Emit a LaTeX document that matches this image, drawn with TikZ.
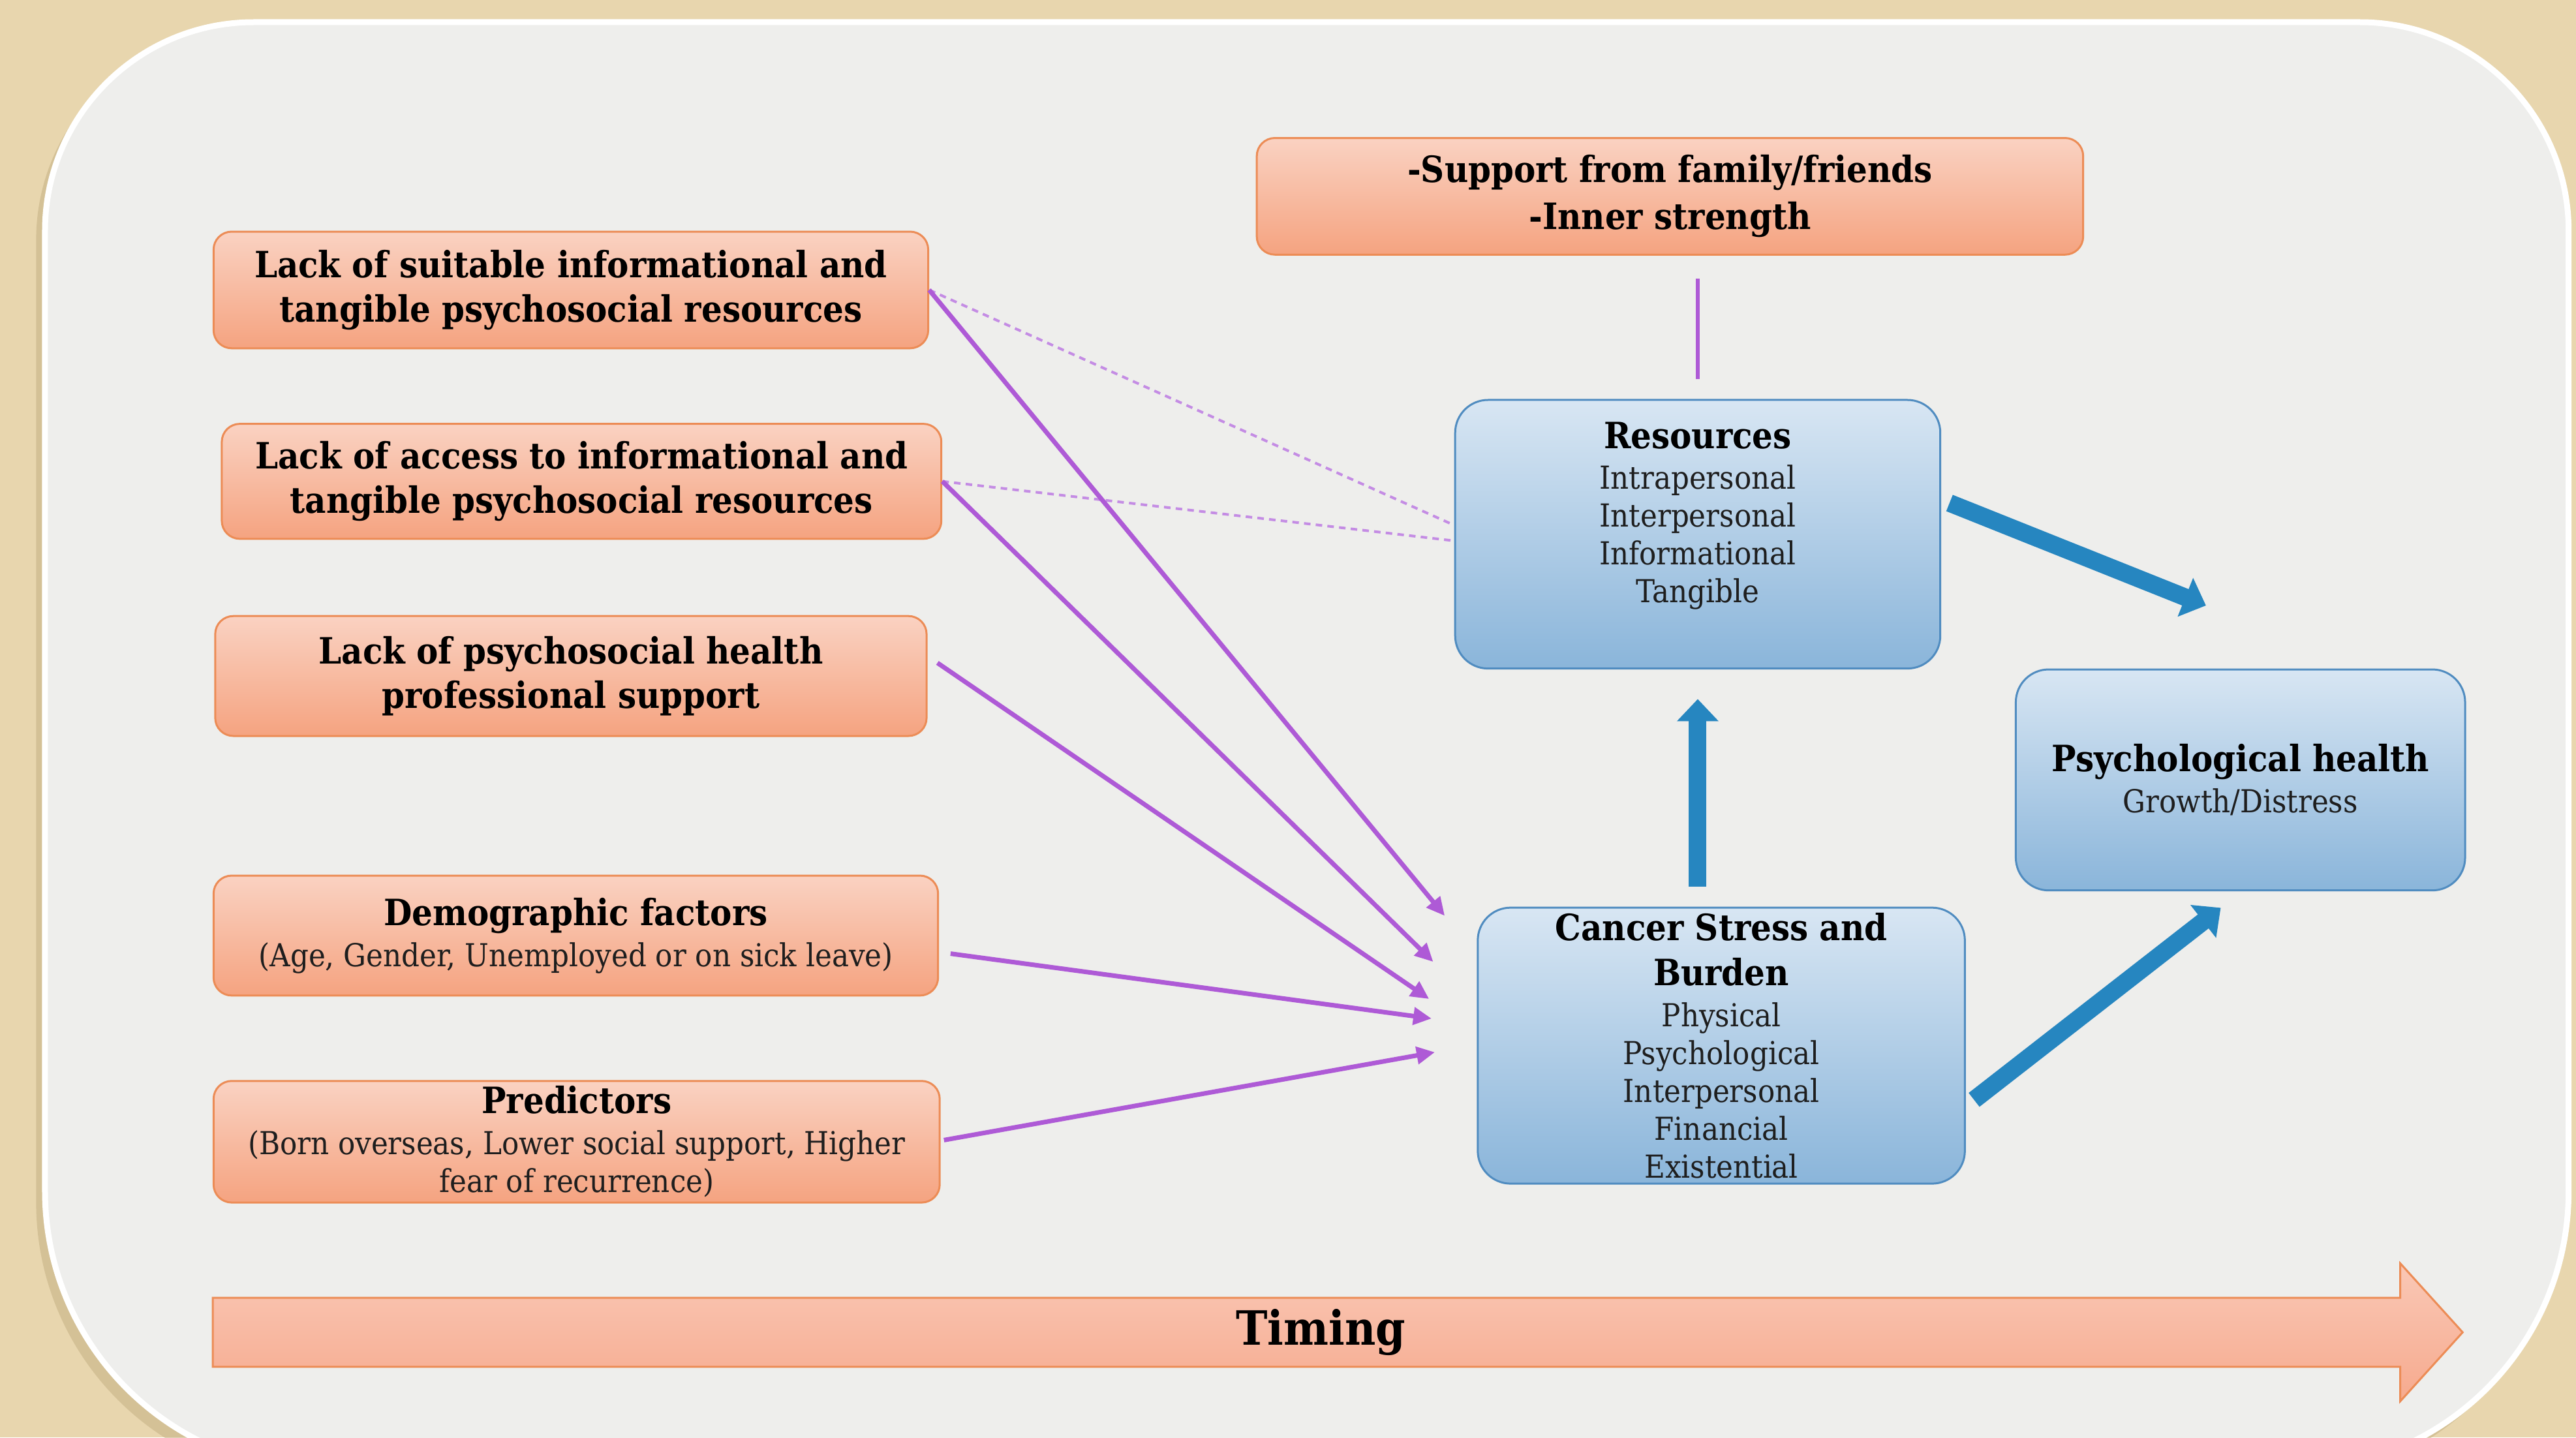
\documentclass[tikz,border=0pt]{standalone}
\usepackage{fontspec}
\setmainfont{DejaVu Serif Condensed}
\usetikzlibrary{arrows.meta,calc}
\newlength\px \setlength\px{0.02518cm}
\definecolor{tanbg}{RGB}{232,214,174}
\definecolor{tanshadow}{RGB}{196,176,132}
\definecolor{panel}{RGB}{238,238,236}
\definecolor{otop}{RGB}{250,210,194}
\definecolor{obot}{RGB}{245,163,128}
\definecolor{odraw}{RGB}{236,140,86}
\definecolor{btop}{RGB}{216,230,243}
\definecolor{bbot}{RGB}{138,181,218}
\definecolor{bdraw}{RGB}{80,140,192}
\definecolor{bluea}{RGB}{38,134,192}
\definecolor{purp}{RGB}{174,90,214}
\definecolor{purplite}{RGB}{196,140,228}
\definecolor{tarrtop}{RGB}{250,200,182}
\definecolor{tarrbot}{RGB}{246,170,142}
\definecolor{regtext}{RGB}{30,30,30}
\newcommand{\bttl}{\fontsize{15.8}{16.5}\selectfont\bfseries}
\begin{document}
\begin{tikzpicture}[x=0.02518cm, y=-0.02518cm,
  obox/.style={rounded corners=11\px, top color=otop, bottom color=obot, draw=odraw, line width=0.03cm, inner sep=0pt, align=center, text=black},
  bbox/.style={rounded corners=20\px, top color=btop, bottom color=bbot, draw=bdraw, line width=0.03cm, inner sep=0pt, align=center, text=black},
  bt/.style={font=\fontsize{15.8}{19.5}\selectfont\bfseries},
  rt/.style={font=\fontsize{13.8}{16.5}\selectfont},
  parr/.style={draw=purp, line width=0.07cm, -{Triangle[length=0.28cm,width=0.26cm]}},
  pline/.style={draw=purp, line width=0.06cm},
  pdash/.style={draw=purplite, line width=0.04cm, dash pattern=on 0.1cm off 0.08cm},
  barr/.style={draw=bluea, line width=0.27cm, -{Triangle[length=0.34cm,width=0.62cm]}},
]
\useasboundingbox (0,0) rectangle (1568,875);
\fill[tanbg] (0,0) rectangle (1568,875);
% panel
\fill[tanshadow, opacity=0.55] (22,500) [rounded corners=127\px] -- (22,19) -- (1558,19) -- (1558,500)
  [rounded corners=170\px] -- (1558,902) -- (22,902) -- cycle;
\filldraw[fill=panel, draw=white, line width=0.09cm] (27.4,500) [rounded corners=127\px] -- (27.4,13.5)
  -- (1563.5,13.5) -- (1563.5,500) [rounded corners=170\px] -- (1563.5,895) -- (27.4,895) -- cycle;

% timing arrow
\filldraw[top color=tarrtop, bottom color=tarrbot, draw=odraw, line width=0.03cm]
  (129.5,790) -- (1461,790) -- (1461,769) -- (1499,811) -- (1461,853) -- (1461,832) -- (129.5,832) -- cycle;
\node[font=\fontsize{20.6}{24}\selectfont\bfseries] (timing) at (804,811) {Timing};

% left boxes
\node[obox, bt, minimum width=435\px, minimum height=71\px] (b1) at (347.5,176.5)
  {Lack of suitable informational and\\tangible psychosocial resources};
\node[obox, bt, minimum width=438\px, minimum height=70\px] (b2) at (354,293)
  {Lack of access to informational and\\tangible psychosocial resources};
\node[obox, bt, minimum width=433\px, minimum height=73\px] (b3) at (347.5,411.5)
  {Lack of psychosocial health\\professional support};
\node[obox, rt, minimum width=441\px, minimum height=73\px] (b4) at (350.5,569.5)
  {{\bttl Demographic factors}\\[1.4pt]
   \textcolor{regtext}{(Age, Gender, Unemployed or on sick leave)}};
\node[obox, rt, minimum width=442\px, minimum height=74\px] (b5) at (351,695)
  {{\bttl Predictors}\\[1.4pt]
   \textcolor{regtext}{(Born overseas, Lower social support, Higher}\\
   \textcolor{regtext}{fear of recurrence)}};

% top box
\node[obox, bt, minimum width=503\px, minimum height=71\px] (sup) at (1016.5,119.5)
  {-Support from family/friends\\[1pt]-Inner strength};

% blue boxes
\node[bbox, minimum width=295.3\px, minimum height=163.5\px] (res) at (1033.4,325.2) {};
\node[rt, align=center, anchor=north, inner sep=0pt, text=regtext] (restext) at (1033.4,256.5)
  {{\bttl\color{black}Resources}\\[1.4pt]
   Intrapersonal\\Interpersonal\\Informational\\Tangible};
\node[bbox, rt, minimum width=296.5\px, minimum height=168\px] (cancer) at (1047.75,636.5)
  {{\bttl Cancer Stress and}\\[3pt]
   {\bttl Burden}\\[1.4pt]
   \textcolor{regtext}{Physical}\\\textcolor{regtext}{Psychological}\\
   \textcolor{regtext}{Interpersonal}\\\textcolor{regtext}{Financial}\\
   \textcolor{regtext}{Existential}};
\node[bbox, rt, minimum width=273.5\px, minimum height=134.5\px] (psych) at (1363.75,474.75)
  {{\bttl Psychological health}\\[1.4pt]
   \textcolor{regtext}{Growth/Distress}};

% dashed connectors to resources
\draw[pdash] (b1.east) -- ([shift={(0,-5.5)}]res.west);
\draw[pdash] (b2.east) -- ([shift={(0,4)}]res.west);

% purple arrows to cancer
\draw[parr] (b1.east) -- ([shift={(-19.5,-79)}]cancer.west);
\draw[parr] (b2.east) -- ([shift={(-26.5,-51)}]cancer.west);
\draw[parr] ([shift={(6,-8)}]b3.east) -- ([shift={(-29,-28.4)}]cancer.west);
\draw[parr] ([shift={(7,11)}]b4.east) -- ([shift={(-27.5,-16.5)}]cancer.west);
\draw[parr] ([shift={(2,-1)}]b5.east) -- ([shift={(-25.5,4)}]cancer.west);

% support line
\draw[pline, shorten <=14\px, shorten >=12\px] (res.north |- sup.south) -- (res.north);

% blue arrows
\draw[barr, shorten <=12\px, shorten >=18\px] (res.south |- cancer.north) -- (res.south);
\draw[barr] ([shift={(5,-19)}]res.east) -- ([shift={(-21,-174)}]psych.south);
\draw[barr] ([shift={(5,33)}]cancer.east) -- ([shift={(-12,10)}]psych.south);
\end{tikzpicture}
\end{document}
